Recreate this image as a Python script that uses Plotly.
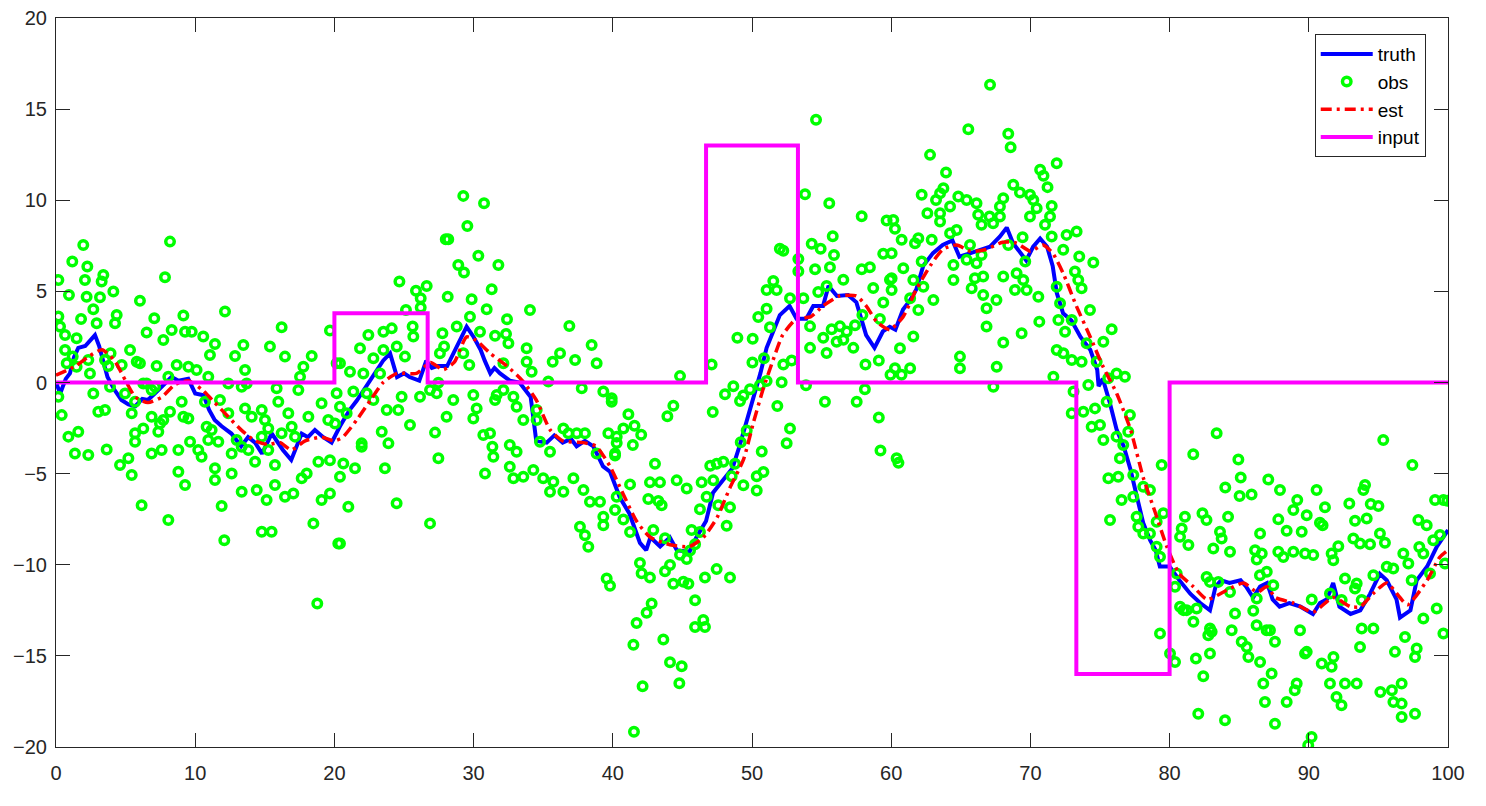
import plotly.graph_objects as go

# truth (blue)
truth_t = [0, 0.3, 0.7, 1.0, 1.3, 1.6, 2.1, 2.5, 2.8, 3.1, 3.4, 3.7, 4.2, 4.7, 5.2, 5.7, 6.2, 6.6, 7.1, 7.6,
           8.3, 8.8, 9.5, 10.0, 10.6, 11.0, 11.4, 11.9, 12.6, 13.3, 13.8, 14.3, 14.8, 15.5, 16.3, 16.9, 17.65, 18.1, 18.6, 19.2,
           19.8, 20.4, 21.1, 21.6, 22.1, 22.6, 23.0, 23.5, 24.0, 24.5, 25.0, 25.4, 26.1, 26.6, 27.0, 27.4, 28.1, 28.8, 29.5, 30.0,
           30.5, 30.8, 31.2, 31.5, 31.9, 32.6, 33.3, 34.1, 34.5, 35.25, 35.8, 36.4, 37.0, 37.4, 38.0, 38.6, 39.3, 39.8, 40.5, 41.2,
           41.95, 42.4, 42.7, 43.4, 44.1, 44.6, 45.5, 46.0, 46.7, 47.2, 47.9, 48.6, 49.1, 49.6, 50.1, 50.6, 51.05, 51.5, 52.0, 52.7,
           53.2, 53.9, 54.4, 55.1, 55.5, 56.1, 56.9, 57.5, 58.2, 58.8, 59.4, 59.9, 60.3, 60.85, 61.35, 61.8, 62.3, 63.0, 63.7, 64.4,
           64.9, 65.7, 66.4, 67.1, 67.8, 68.3, 68.75, 69.25, 69.7, 70.2, 70.7, 71.2, 71.6, 71.9, 72.35, 72.95, 73.6, 74.3, 74.8, 74.9,
           75.2, 75.7, 76.2, 76.7, 77.2, 77.6, 78.1, 78.6, 79.0, 79.3, 80.0, 80.7, 81.5, 82.2, 82.9, 83.3, 83.7, 84.3, 85.1, 85.5,
           86.0, 86.5, 87.0, 87.4, 87.9, 88.6, 89.4, 90.3, 90.8, 91.3, 91.75, 92.2, 93.0, 93.7, 94.4, 95.1, 95.6, 96.3, 96.55, 97.3,
           97.75, 98.5, 99.2, 100]
truth_v = [0.0, -0.6, 0.2, 0.5, 1.4, 1.9, 2.0, 2.3, 2.6, 2.0, 1.2, 0.3, -0.4, -0.96, -1.2, -1.3, -0.9, -0.96, -0.6, -0.2,
           0.3, 0.1, 0.2, -0.6, -0.7, -1.5, -2.06, -2.4, -2.8, -3.5, -3.0, -3.3, -3.9, -2.8, -3.7, -4.25, -2.8, -3.0, -2.6, -3.0,
           -3.3, -2.4, -1.5, -1.0, -0.4, 0.2, 0.7, 1.2, 1.6, 0.3, 0.5, 0.3, 0.1, 1.2, 0.8, 0.9, 0.9, 2.0, 3.06, 2.5,
           1.8, 1.2, 0.5, 0.8, 0.5, 0.1, 0.0, -0.8, -3.2, -3.3, -2.9, -3.3, -3.1, -3.5, -3.2, -3.5, -4.6, -4.9, -6.3, -7.2,
           -8.8, -9.2, -8.5, -9.0, -8.5, -9.2, -9.3, -8.5, -7.6, -6.05, -5.35, -4.7, -3.5, -2.2, -0.8, 0.5, 1.9, 2.8, 3.7, 4.2,
           3.5, 3.5, 4.2, 4.2, 5.3, 4.75, 4.8, 4.4, 2.6, 1.9, 2.8, 3.06, 2.9, 4.0, 4.5, 5.1, 6.4, 7.1, 7.55, 7.8,
           6.9, 7.1, 7.3, 7.45, 8.0, 8.5, 7.65, 7.1, 6.7, 7.45, 7.9, 7.45, 6.4, 4.9, 3.8, 3.4, 2.5, 1.8, 0.7, -0.2,
           0.2, -1.1, -2.6, -3.5, -4.8, -6.1, -7.7, -8.65, -9.2, -10.1, -10.1, -10.85, -11.6, -12.1, -12.5, -11.2, -10.85, -11.0, -10.85, -11.2,
           -11.8, -11.2, -11.0, -11.9, -12.3, -12.1, -12.3, -12.7, -12.1, -11.9, -11.0, -12.3, -12.7, -12.5, -11.6, -10.5, -10.85, -11.9, -12.9, -12.5,
           -10.85, -10.1, -9.0, -8.1]

# estimate (red dash-dot)
est_t = [0, 1.4, 2.3, 3.3, 4.2, 5.0, 5.7, 6.6, 7.6, 8.5, 9.5, 10.5, 11.4, 12.4, 13.3, 14.3, 15.2, 16.1, 16.9, 17.9,
         19.1, 20.0, 20.6, 21.6, 22.6, 23.5, 24.5, 25.9, 26.9, 27.8, 28.6, 29.5, 30.2, 31.2, 32.4, 33.5, 34.5, 35.5, 36.4, 37.9,
         38.8, 39.8, 40.7, 41.7, 42.7, 44.1, 45.5, 46.5, 47.5, 48.4, 49.4, 50.1, 50.8, 51.5, 52.2, 53.2, 54.2, 55.1, 56.3, 57.5,
         58.2, 59.0, 59.9, 60.85, 61.8, 62.8, 63.7, 64.7, 65.7, 66.8, 68.0, 69.0, 70.0, 70.9, 71.6, 72.35, 73.3, 74.3, 75.2, 76.2,
         77.2, 78.1, 79.0, 79.8, 80.7, 81.7, 82.7, 84.1, 85.3, 86.3, 87.0, 87.6, 88.9, 90.3, 91.75, 93.0, 93.7, 94.6, 95.6, 96.55,
         97.1, 98.5, 99.4, 100]
est_v = [0.4, 0.9, 1.4, 1.8, 1.2, 0.1, -0.8, -1.1, -0.8, -0.14, 0.1, -0.4, -1.1, -1.9, -2.6, -3.2, -3.4, -3.3, -3.7, -3.2,
         -3.0, -3.2, -3.0, -2.06, -0.96, 0.0, 0.5, 0.5, 1.1, 0.7, 1.1, 2.5, 2.3, 1.6, 0.9, 0.1, -0.96, -2.6, -3.2, -3.3,
         -3.5, -4.6, -6.05, -7.6, -8.5, -8.9, -9.0, -8.5, -7.4, -5.8, -4.2, -2.2, -0.36, 1.2, 2.6, 3.5, 3.6, 4.2, 4.75, 4.75,
         4.2, 3.3, 2.9, 3.6, 5.1, 6.4, 7.3, 7.55, 7.2, 7.3, 7.7, 7.65, 7.2, 7.55, 7.1, 6.0, 4.2, 2.5, 0.9, -0.6,
         -2.6, -5.2, -7.2, -9.0, -10.5, -11.2, -11.9, -11.4, -11.0, -11.5, -11.2, -11.8, -12.1, -12.6, -11.8, -12.3, -12.3, -11.6, -11.0, -11.8,
         -12.2, -10.85, -9.6, -9.2]

# input (magenta step), value holds until the next time
input_t = [0, 20, 26.7, 46.7, 53.3, 73.3, 80, 100]
input_u = [0, 3.8, 0, 13, 0, -16, 0, 0]

# observations (green circles), (t, y) read section by section
obs_0_20 = [
    (1.96, 7.55), (8.19, 7.73), (0.17, 5.63), (1.17, 6.64), (2.25, 6.36), (2.08, 5.63), (3.4, 5.9), (3.28, 5.54),
    (7.83, 5.78), (0.93, 4.8), (2.2, 4.71), (3.16, 4.68), (4.12, 4.99), (6.03, 4.49), (2.68, 4.02), (0.17, 3.62),
    (1.8, 3.49), (4.36, 3.71), (4.24, 3.25), (7.06, 3.52), (9.15, 3.67), (12.14, 3.89), (2.92, 3.25), (0.29, 3.07),
    (0.65, 2.61), (1.48, 2.43), (6.51, 2.74), (7.71, 2.33), (8.31, 2.88), (9.27, 2.79), (9.75, 2.79), (10.58, 2.52),
    (11.42, 2.11), (11.06, 1.51), (13.46, 2.06), (12.86, 1.46), (15.37, 1.97), (16.21, 3.03), (16.45, 1.42), (18.37, 1.46),
    (17.77, 0.87), (19.68, 2.85), (0.65, 1.78), (1.2, 1.42), (0.77, 1.05), (1.48, 0.87), (2.32, 1.24), (3.52, 1.24),
    (3.92, 1.6), (5.32, 1.78), (5.8, 1.14), (6.03, 1.05), (4.72, 0.96), (3.76, 0.9), (2.44, 0.5), (7.23, 0.9),
    (8.67, 0.96), (9.51, 0.87), (10.1, 0.69), (10.94, 0.32), (13.58, 0.69), (13.7, -0.05), (12.38, -0.05), (13.34, -0.23),
    (15.85, -0.32), (15.97, -1.05), (17.53, 0.32), (17.41, -0.41), (20.16, 1.05), (0.17, -0.78), (0.41, -1.79), (2.68, -0.6),
    (3.04, -1.6), (3.52, -1.51), (3.88, -0.23), (4.96, -0.6), (5.68, -1.05), (5.44, -1.69), (6.87, -0.41), (6.51, -0.05),
    (6.87, -1.88), (7.71, -2.06), (8.19, -1.6), (9.03, -1.05), (9.15, -1.88), (9.51, -1.97), (6.27, -0.05), (7.11, -0.23),
    (8.07, 0.32), (10.7, -1.05), (11.78, -0.96), (12.38, -1.69), (13.58, -1.42), (14.06, -1.88), (14.78, -1.51), (15.01, -2.06),
    (15.25, -2.52), (16.69, -1.69), (16.93, -2.43), (17.17, -2.97), (18.13, -1.88), (19.08, -1.14), (19.56, -2.06), (20.04, -2.25),
    (20.4, -1.33), (10.82, -2.43), (11.18, -2.61), (10.94, -3.16), (11.66, -3.25), (12.62, -3.89), (12.98, -3.16), (13.34, -3.52),
    (14.3, -4.35), (13.82, -3.71), (14.78, -2.97), (15.25, -3.71), (15.73, -4.53), (16.21, -2.79), (0.89, -2.97), (1.6, -2.7),
    (1.36, -3.89), (2.32, -3.98), (3.64, -3.67), (5.68, -2.79), (5.68, -3.25), (6.27, -2.52), (7.35, -2.7), (7.47, -2.25),
    (6.87, -3.89), (7.59, -3.71), (8.79, -3.71), (9.63, -3.25), (10.22, -3.71), (10.46, -4.07), (4.6, -4.53), (5.2, -4.16),
    (5.44, -5.08), (8.79, -4.9), (9.27, -5.63), (11.42, -4.71), (11.42, -5.35), (12.62, -4.99), (13.34, -5.99), (14.42, -5.9),
    (15.13, -6.45), (15.73, -5.63), (16.45, -6.27), (17.05, -6.09), (17.65, -5.26), (18.01, -4.99), (19.08, -6.45), (18.85, -4.35),
    (19.68, -4.26), (6.15, -6.73), (8.07, -7.55), (11.9, -6.78), (12.09, -8.65), (14.78, -8.19), (15.49, -8.19), (18.49, -7.73),
    (20.28, -8.83), (18.77, -12.13),
]
obs_20_40 = [
    (29.26, 10.24), (30.75, 9.84), (29.55, 8.59), (28.0, 7.86), (28.18, 7.86), (30.34, 6.95), (31.78, 6.45), (28.9, 6.45),
    (29.31, 6.03), (24.67, 5.54), (25.86, 5.04), (26.63, 5.3), (26.2, 4.62), (31.3, 5.12), (28.14, 4.71), (29.86, 4.57),
    (30.94, 4.02), (34.05, 3.98), (25.14, 3.98), (26.2, 4.11), (29.74, 3.61), (32.4, 3.47), (36.88, 3.1), (28.79, 3.07),
    (22.44, 2.61), (23.52, 2.79), (24.12, 2.97), (25.62, 3.07), (25.67, 2.52), (30.46, 2.79), (31.54, 2.56), (32.33, 2.66),
    (32.5, 2.15), (21.84, 1.88), (23.52, 1.79), (24.48, 1.97), (25.07, 1.42), (27.76, 2.7), (27.88, 1.97), (27.58, 1.6),
    (29.26, 1.6), (29.69, 0.96), (32.14, 1.05), (33.81, 1.88), (33.81, 1.14), (34.17, 0.59), (36.21, 1.6), (35.68, 1.14),
    (37.29, 1.23), (38.48, 2.06), (38.84, 1.05), (20.4, 1.05), (21.12, 0.59), (22.8, 1.33), (23.28, 0.5), (22.08, 0.5),
    (27.47, -0.01), (26.87, -0.41), (27.35, -0.59), (26.15, -0.78), (28.54, -0.96), (29.98, -0.69), (30.22, -1.42), (29.98, -1.97),
    (31.54, -0.96), (32.14, -0.41), (32.86, -0.78), (33.09, -1.33), (31.66, -0.69), (34.53, -1.51), (33.57, -2.06), (34.53, -2.06),
    (35.37, 0.05), (37.77, -0.32), (39.32, -0.5), (39.92, -0.87), (20.16, -0.59), (20.88, -1.69), (21.36, -0.5), (22.32, -0.59),
    (22.8, -0.96), (23.76, -1.51), (24.59, -1.51), (24.83, -0.78), (25.43, -2.33), (28.06, -1.88), (23.4, -2.7), (23.88, -3.34),
    (21.96, -3.34), (21.96, -3.52), (27.23, -2.75), (30.7, -2.88), (31.18, -2.79), (31.35, -3.52), (31.42, -4.07), (32.6, -3.43),
    (33.09, -3.8), (27.47, -4.16), (34.77, -3.25), (35.49, -3.8), (36.45, -2.52), (36.81, -2.79), (37.41, -2.79), (38.0, -2.79),
    (39.68, -2.79), (40.28, -2.97), (40.16, -3.89), (38.84, -3.89), (20.64, -4.44), (21.48, -4.71), (19.68, -6.09), (20.4, -5.17),
    (23.63, -4.71), (32.6, -4.62), (32.86, -5.26), (33.57, -5.17), (34.29, -4.8), (35.0, -5.26), (35.49, -5.99), (35.73, -5.44),
    (36.45, -5.99), (37.17, -5.26), (37.89, -5.9), (38.36, -6.54), (39.08, -6.54), (30.82, -4.99), (21.0, -6.82), (24.47, -6.63),
    (26.87, -7.73), (20.4, -8.83), (39.32, -7.37), (39.32, -7.83), (40.16, -7.0), (37.64, -7.92), (38.0, -8.38), (38.24, -9.01),
    (39.56, -10.75),
]
obs_40_60 = [
    (54.6, 14.42), (53.81, 10.33), (55.55, 9.84), (57.88, 9.12), (59.67, 8.89), (60.27, 8.43), (55.8, 8.02), (52.0, 7.34),
    (52.25, 7.23), (54.29, 7.61), (54.93, 7.34), (55.89, 7.0), (53.33, 6.78), (59.43, 7.07), (57.88, 6.21), (58.47, 6.32),
    (53.33, 6.1), (54.53, 6.21), (55.6, 6.32), (51.53, 5.57), (51.05, 5.07), (51.77, 5.07), (56.56, 5.64), (59.91, 5.64),
    (60.03, 5.07), (58.71, 5.18), (54.76, 4.96), (55.36, 5.3), (53.69, 4.62), (52.73, 4.62), (51.05, 4.05), (50.45, 3.6),
    (51.29, 3.03), (59.43, 4.39), (57.93, 3.71), (59.19, 3.48), (54.17, 3.08), (55.72, 2.92), (56.32, 3.08), (56.8, 2.8),
    (57.4, 3.14), (56.56, 2.35), (55.12, 2.46), (56.08, 2.24), (57.28, 1.9), (54.17, 1.9), (55.36, 1.62), (52.85, 1.21),
    (52.25, 0.99), (48.95, 2.46), (50.05, 2.4), (50.86, 1.33), (50.03, 1.1), (47.1, 0.99), (44.83, 0.35), (59.11, 1.21),
    (58.15, 0.99), (59.95, 0.42), (60.74, 0.42), (53.88, -0.15), (55.24, -1.06), (57.52, -1.06), (58.11, -0.37), (59.11, -1.92),
    (59.23, -3.73), (60.52, -4.41), (52.73, -2.53), (52.49, -3.33), (51.82, -1.29), (48.06, -0.64), (48.66, -0.21), (49.38, -0.71),
    (49.14, -1.01), (49.86, -0.37), (50.57, -0.15), (51.05, 0.08), (52.13, 0.01), (41.12, -1.74), (40.76, -2.53), (41.56, -2.37),
    (42.04, -2.87), (41.44, -3.43), (40.28, -3.32), (39.92, -1.06), (40.16, -4.0), (39.8, -11.15), (47.18, -1.62), (43.92, -1.85),
    (44.35, -1.28), (47.0, -4.57), (47.46, -4.46), (47.94, -4.35), (48.78, -4.46), (49.19, -3.28), (49.62, -2.64), (50.7, -3.78),
    (50.82, -4.91), (50.34, -5.14), (50.34, -5.93), (49.38, -5.64), (48.54, -5.14), (47.22, -5.37), (46.38, -5.48), (46.74, -6.27),
    (47.58, -6.73), (48.42, -6.84), (48.18, -7.86), (46.26, -6.95), (45.66, -8.09), (46.26, -8.2), (43.03, -4.46), (42.67, -5.48),
    (43.39, -5.48), (44.59, -5.37), (45.31, -5.82), (43.27, -6.5), (43.51, -6.73), (42.55, -6.39), (41.24, -5.59), (41.24, -8.2),
    (40.28, -6.27), (40.76, -7.52), (42.91, -8.09), (43.75, -8.54), (41.95, -9.9), (42.07, -10.47), (42.67, -10.7), (43.75, -10.36),
    (44.11, -10.02), (44.35, -11.04), (45.07, -10.93), (45.43, -11.04), (44.83, -9.45), (45.31, -9.68), (45.55, -9.22), (45.91, -8.88),
    (46.62, -10.7), (47.46, -10.24), (48.42, -10.7), (45.91, -11.95), (42.43, -12.63), (42.79, -12.13), (41.71, -13.19), (45.91, -13.42),
    (46.62, -13.42), (46.5, -13.03), (41.48, -14.39), (43.63, -14.1), (44.11, -15.35), (44.95, -15.57), (42.14, -16.67), (44.78, -16.5),
    (41.52, -19.16),
]
obs_60_80 = [
    (67.1, 16.34), (65.54, 13.9), (68.41, 13.65), (68.58, 12.91), (62.79, 12.49), (71.89, 12.03), (63.94, 11.52), (70.7, 11.67),
    (70.94, 11.34), (71.23, 10.72), (68.77, 10.85), (69.25, 10.42), (63.75, 10.66), (63.51, 10.39), (62.19, 10.3), (63.22, 10.02),
    (64.82, 10.2), (65.42, 10.02), (66.13, 9.84), (68.05, 10.11), (67.81, 9.66), (69.97, 10.3), (70.21, 10.02), (70.45, 9.56),
    (71.53, 9.69), (62.6, 9.29), (63.51, 9.29), (64.23, 9.66), (66.25, 9.2), (67.07, 9.11), (67.81, 9.11), (66.49, 8.65),
    (67.32, 8.74), (63.51, 8.83), (69.97, 9.11), (71.05, 8.65), (71.41, 9.11), (73.32, 8.28), (72.6, 8.1), (72.36, 7.28),
    (71.53, 8.01), (69.44, 7.97), (64.7, 8.37), (60.15, 8.92), (60.75, 7.83), (61.71, 7.64), (61.95, 7.92), (62.91, 7.83),
    (64.23, 8.19), (60.03, 7.09), (62.19, 6.64), (60.87, 6.27), (64.47, 6.45), (65.42, 6.73), (66.13, 6.54), (66.49, 7.0),
    (65.66, 7.55), (68.41, 7.55), (69.63, 6.64), (73.51, 6.91), (74.52, 6.58), (73.2, 6.09), (73.44, 5.63), (73.68, 5.17),
    (60.03, 5.72), (61.59, 5.63), (62.31, 5.26), (63.03, 4.53), (64.47, 5.63), (66.01, 5.72), (66.61, 5.81), (65.78, 5.17),
    (66.61, 4.8), (68.05, 5.81), (69.01, 6.0), (68.89, 5.08), (69.49, 5.63), (69.73, 5.08), (70.57, 4.71), (71.89, 5.26),
    (67.56, 4.53), (66.85, 4.07), (61.95, 3.98), (61.36, 4.62), (72.13, 4.35), (74.28, 3.98), (75.84, 2.92), (75.24, 2.24),
    (74.04, 2.15), (72.01, 3.43), (72.49, 2.79), (72.97, 3.43), (70.64, 3.34), (69.37, 2.7), (68.05, 2.19), (66.85, 3.07),
    (60.63, 1.88), (61.59, 2.52), (60.27, 0.78), (61.36, 0.78), (64.94, 1.42), (64.94, 0.78), (67.58, 0.87), (67.34, -0.23),
    (71.89, 1.78), (72.37, 1.6), (72.97, 1.24), (73.68, 1.14), (71.65, 0.32), (74.16, -0.14), (74.76, 1.14), (75.59, 0.23),
    (76.19, 0.5), (76.79, 0.32), (73.1, -0.5), (72.97, -1.69), (73.8, -1.6), (74.64, -1.42), (75.48, -1.05), (74.4, -2.43),
    (75.0, -2.33), (75.24, -3.16), (76.19, -2.97), (77.15, -1.78), (77.03, -2.7), (76.67, -3.43), (76.43, -4.16), (75.6, -5.26),
    (76.31, -5.17), (77.39, -5.08), (78.11, -5.72), (78.59, -5.9), (76.55, -6.45), (77.39, -6.27), (75.72, -7.55), (77.63, -7.37),
    (77.75, -7.92), (79.43, -4.53), (79.55, -7.18), (79.07, -7.64), (78.59, -8.28), (78.11, -8.28), (79.07, -9.01), (60.39, -4.16),
]
obs_80_100 = [
    (81.7, -3.94), (83.38, -2.79), (84.94, -4.22), (85.11, -5.21), (84.0, -5.76), (85.03, -6.23), (85.89, -6.14), (87.09, -5.32),
    (87.93, -5.9), (90.56, -5.9), (89.17, -6.45), (91.16, -6.85), (92.91, -6.64), (94.04, -5.63), (93.92, -5.9), (94.45, -6.67),
    (95.0, -6.78), (95.35, -3.16), (97.44, -4.53), (99.07, -6.45), (99.95, -6.49), (99.67, -6.45), (81.1, -7.37), (82.36, -7.18),
    (82.65, -7.55), (84.2, -7.37), (87.81, -7.51), (88.89, -7.0), (89.85, -7.28), (90.8, -7.7), (90.99, -7.83), (93.32, -7.59),
    (94.16, -7.46), (97.87, -7.55), (98.47, -7.83), (80.87, -8.01), (80.75, -8.47), (81.35, -8.92), (83.62, -8.19), (83.74, -8.56),
    (86.5, -8.28), (88.41, -8.14), (89.49, -8.19), (93.2, -8.56), (93.68, -8.83), (94.4, -8.87), (95.11, -8.28), (95.47, -8.79),
    (97.94, -9.02), (98.94, -8.65), (99.42, -8.37), (99.78, -9.93), (83.14, -9.11), (84.34, -9.29), (86.14, -9.2), (86.26, -9.71),
    (86.62, -9.38), (87.81, -9.29), (88.17, -9.57), (88.89, -9.29), (89.73, -9.38), (90.32, -9.47), (91.64, -9.38), (91.76, -9.75),
    (92.12, -8.98), (92.6, -10.75), (93.44, -11.03), (93.8, -11.94), (93.32, -11.3), (94.64, -10.57), (95.6, -10.11), (96.07, -10.2),
    (96.79, -9.38), (97.15, -9.93), (97.39, -10.85), (98.23, -9.38), (98.71, -10.48), (80.51, -10.48), (82.66, -10.67), (82.9, -10.94),
    (83.5, -10.94), (84.34, -11.49), (86.49, -10.57), (86.98, -10.39), (87.45, -11.12), (90.21, -11.91), (91.52, -11.58), (92.36, -11.94),
    (80.75, -12.31), (80.99, -12.49), (81.23, -12.49), (81.71, -13.13), (81.94, -12.4), (82.9, -13.5), (83.02, -13.68), (82.78, -13.87),
    (84.46, -13.59), (84.7, -12.68), (85.18, -14.23), (85.54, -14.51), (85.66, -15.06), (86.01, -12.53), (86.25, -13.32), (86.97, -13.59),
    (87.21, -13.59), (87.57, -14.23), (89.37, -13.59), (89.73, -14.87), (86.5, -15.33), (87.33, -15.97), (86.73, -16.52), (89.13, -16.52),
    (88.99, -16.89), (88.41, -17.53), (86.85, -17.53), (87.57, -18.72), (83.98, -18.53), (82.06, -18.17), (82.42, -16.12), (81.89, -15.15),
    (82.9, -14.87), (90.93, -15.42), (91.77, -15.06), (91.64, -15.6), (91.52, -16.52), (92.6, -16.52), (93.44, -16.52), (91.99, -17.25),
    (92.35, -17.71), (89.85, -14.78), (93.68, -14.51), (93.8, -13.5), (94.64, -13.5), (96.19, -14.78), (97.75, -14.6), (97.63, -15.06),
    (96.91, -13.96), (98.23, -12.95), (99.19, -12.4), (99.67, -13.77), (96.67, -16.52), (95.14, -16.98), (95.97, -16.89), (96.08, -17.53),
    (96.67, -17.62), (96.67, -18.35), (97.63, -18.17), (90.2, -19.45), (89.96, -19.91), (86.26, -11.85), (79.31, -9.56), (80.39, -11.21),
    (80.03, -14.87), (80.39, -15.33), (79.31, -13.77),
]

obs_all = obs_0_20 + obs_20_40 + obs_40_60 + obs_60_80 + obs_80_100
obs_t = [p[0] for p in obs_all]
obs_v = [p[1] for p in obs_all]

AXIS_COLOR = "#262626"
FONT = "Liberation Sans, Arial, sans-serif"

fig = go.Figure()
fig.add_trace(go.Scatter(
    x=truth_t, y=truth_v, name="truth", mode="lines",
    line=dict(color="#0000ff", width=4),
))
fig.add_trace(go.Scatter(
    x=obs_t, y=obs_v, name="obs", mode="markers",
    marker=dict(symbol="circle-open", size=8.5, color="#00ff00", line=dict(width=3.5, color="#00ff00")),
))
fig.add_trace(go.Scatter(
    x=est_t, y=est_v, name="est", mode="lines",
    line=dict(color="#ff0000", width=3.5, dash="11px,5px,3px,5px", shape="spline", smoothing=0.6),
))
fig.add_trace(go.Scatter(
    x=input_t, y=input_u, name="input", mode="lines",
    line=dict(color="#ff00ff", width=4, shape="hv"),
))

axis_common = dict(
    showgrid=False, zeroline=False, automargin=False,
    showline=True, linecolor=AXIS_COLOR, linewidth=1, mirror="ticks",
    ticks="inside", ticklen=14, tickwidth=1, tickcolor=AXIS_COLOR,
    tickfont=dict(family=FONT, size=20, color=AXIS_COLOR),
    ticklabeloverflow="allow",
)

fig.update_layout(
    width=1486, height=806,
    paper_bgcolor="white", plot_bgcolor="white",
    margin=dict(l=56, r=38, t=18, b=59),
    xaxis=dict(range=[0, 100], dtick=10, ticklabelstandoff=8, **axis_common),
    yaxis=dict(range=[-20, 20], dtick=5, ticklabelstandoff=4, **axis_common),
    showlegend=True,
    legend=dict(
        x=0.984, y=0.978, xanchor="right", yanchor="top",
        bgcolor="white", bordercolor=AXIS_COLOR, borderwidth=1,
        font=dict(family=FONT, size=19, color="#000000"),
        itemwidth=52, tracegroupgap=0,
    ),
)

# drop the page's default body margin so the figure sits at the window's corner
fig.write_html(
    "out.html",
    config={"displayModeBar": False},
    post_script="document.body.style.margin = '0';",
)
